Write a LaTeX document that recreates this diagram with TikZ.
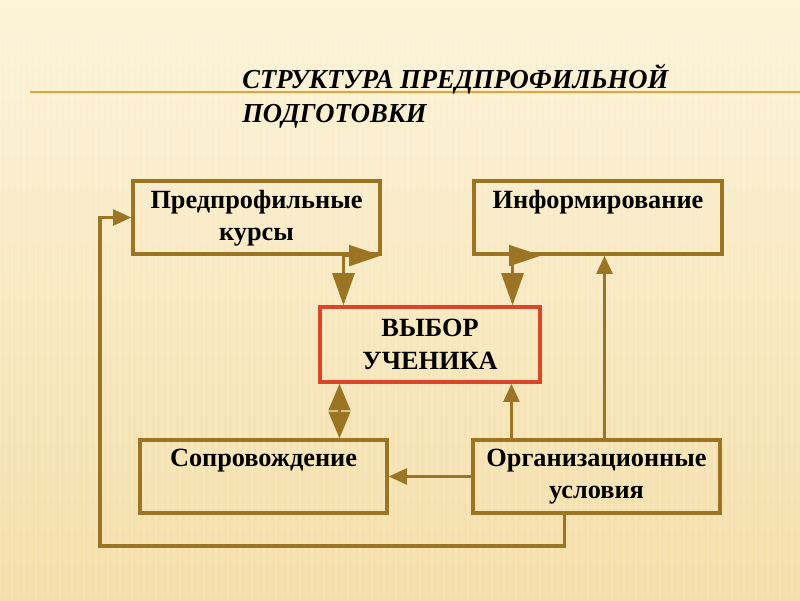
\documentclass[tikz,border=0pt]{standalone}
\usepackage{fontspec}
\setmainfont{Liberation Serif}
\usetikzlibrary{arrows.meta,fit}
\definecolor{brn}{HTML}{9B7424}
\definecolor{redb}{HTML}{D9462A}
\definecolor{gold}{HTML}{E5A53C}
\definecolor{paperA}{HTML}{FCF3D8}
\definecolor{paperM}{HTML}{F7E4B5}
\definecolor{paperB}{HTML}{F4DEA8}
\tikzset{
  box/.style={draw=brn, line width=2.2pt, inner sep=0pt},
  boxtext/.style={anchor=north, align=center, inner sep=0pt, font=\fontsize{18.7pt}{22.7pt}\selectfont\bfseries},
  titletext/.style={anchor=base west, inner sep=0pt, xscale=0.97, transform shape, font=\fontsize{19.5pt}{24pt}\selectfont\bfseries\itshape},
  link/.style={draw=brn, line width=2.6pt},
  bighead/.style={{Triangle[length=23pt,width=14.5pt]}-{Triangle[length=23pt,width=15.5pt]}},
  midhead/.style={{Triangle[length=19pt,width=15pt]}-{Triangle[length=19pt,width=15pt]}},
  smallhead/.style={-{Triangle[length=13pt,width=11pt]}}
}
\begin{document}
\begin{tikzpicture}[x=0.025cm,y=-0.025cm]
  \useasboundingbox (0,0) rectangle (800,600);
  \shade[top color=paperA, middle color=paperM, bottom color=paperB] (0,0) rectangle (800,600);
  \foreach \s in {0,6,...,800}
    \draw[white, opacity=0.15, line width=0.8pt] (\s,35) -- (\s,600);
  \draw[gold, line width=1.5pt] (30,92) -- (800,92);
  \node[titletext] (title1) at (242,88) {СТРУКТУРА ПРЕДПРОФИЛЬНОЙ};
  \node[titletext] (title2) at (242,122) {ПОДГОТОВКИ};

  \node[box, fit={(133,181)(380,254)}] (kurs) {};
  \node[box, fit={(474,181)(722,254)}] (info) {};
  \node[box, draw=redb, fit={(320,307)(540,382)}] (vybor) {};
  \node[box, fit={(140,440)(387,513)}] (sopr) {};
  \node[box, fit={(473,440)(720,513)}] (org) {};

  \node[boxtext] (kursT) at ([yshift=-0.275cm]kurs.north) {Предпрофильные\\курсы};
  \node[boxtext] (infoT) at ([yshift=-0.275cm]info.north) {Информирование};
  \node[boxtext, anchor=center, font=\fontsize{18.7pt}{23.5pt}\selectfont\bfseries] (vyborT) at (vybor.center) {ВЫБОР\\УЧЕНИКА};
  \node[boxtext] (soprT) at ([yshift=-0.25cm]sopr.north) {Сопровождение};
  \node[boxtext] (orgT) at ([yshift=-0.25cm]org.north) {Организационные\\условия};

  \coordinate (v1) at ([xshift=0.525cm]vybor.south west);
  \coordinate (o1) at ([xshift=1cm]org.north west);
  \coordinate (o2) at ([xshift=3.325cm]org.north west);
  \coordinate (o3) at ([xshift=2.325cm]org.south west);
  \coordinate (loop) at (100,546);

  \draw[link, bighead] (kurs.south east) -| ([xshift=0.625cm]vybor.north west);
  \draw[link, bighead] ([xshift=1.725cm]info.south west) -| ([xshift=-0.725cm]vybor.north east);
  \draw[link, midhead] (v1) -- (v1 |- sopr.north);
  \draw[link, smallhead] (o1) -- (o1 |- vybor.south);
  \draw[link, smallhead] (o2) -- (o2 |- info.south);
  \draw[link, smallhead] (org.west) -- (sopr.east);
  \draw[link, smallhead] (o3) |- (loop) |- (kurs.west);
\end{tikzpicture}
\end{document}
